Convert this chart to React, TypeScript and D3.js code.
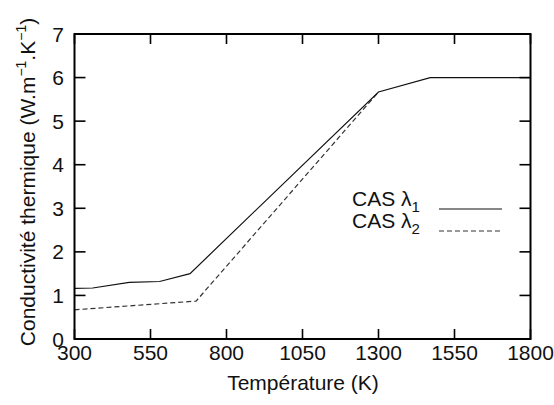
import React from "react";
import * as d3 from "d3";

const xTicks = [300, 550, 800, 1050, 1300, 1550, 1800];
const yTicks = [0, 1, 2, 3, 4, 5, 6, 7];

const tempCas1 = [300, 360, 480, 580, 680, 1300, 1470, 1800];
const lambdaCas1 = [1.16, 1.17, 1.3, 1.32, 1.5, 5.67, 6.0, 6.0];

const tempCas2 = [300, 700, 1300];
const lambdaCas2 = [0.67, 0.87, 5.67];

const W = 554;
const H = 405;
const left = 74.5;
const right = 530.5;
const top = 34;
const bottom = 339;
const font = "Liberation Sans, Arial, sans-serif";
const fs = 21;

export default function App() {
  const x = d3.scaleLinear().domain([300, 1800]).range([left, right]);
  const y = d3.scaleLinear().domain([0, 7]).range([bottom, top]);

  const line = d3
    .line<[number, number]>()
    .x((d) => x(d[0]))
    .y((d) => y(d[1]));

  const d1 = line(tempCas1.map((t, i) => [t, lambdaCas1[i]] as [number, number])) || "";
  const d2 = line(tempCas2.map((t, i) => [t, lambdaCas2[i]] as [number, number])) || "";

  const tickLenX = 10;
  const tickLenY = 11;

  return (
    <svg
      width={W}
      height={H}
      style={{ position: "absolute", left: 0, top: 0, background: "#fff" }}
      fontFamily={font}
    >
      <rect x={0} y={0} width={W} height={H} fill="#fff" />
      {/* data */}
      <path d={d2} fill="none" stroke="#333" strokeWidth={1.2} strokeDasharray="5,3" />
      <path d={d1} fill="none" stroke="#111" strokeWidth={1.2} />

      {/* ticks */}
      {xTicks.map((t) => (
        <g key={"x" + t}>
          <line x1={x(t)} x2={x(t)} y1={bottom} y2={bottom - tickLenX} stroke="#000" strokeWidth={1.6} />
          <line x1={x(t)} x2={x(t)} y1={top} y2={top + tickLenX} stroke="#000" strokeWidth={1.6} />
          <text x={x(t)} y={360} textAnchor="middle" fontSize={fs} fill="#111">
            {t}
          </text>
        </g>
      ))}
      {yTicks.map((v) => (
        <g key={"y" + v}>
          <line x1={left} x2={left + tickLenY} y1={y(v)} y2={y(v)} stroke="#000" strokeWidth={1.6} />
          <line x1={right} x2={right - tickLenY} y1={y(v)} y2={y(v)} stroke="#000" strokeWidth={1.6} />
          <text x={64} y={y(v) + 7.5} textAnchor="end" fontSize={fs} fill="#111">
            {v}
          </text>
        </g>
      ))}

      {/* frame */}
      <rect x={left} y={top} width={right - left} height={bottom - top} fill="none" stroke="#000" strokeWidth={2} />

      {/* axis titles */}
      <text x={303} y={390} textAnchor="middle" fontSize={fs} fill="#111">
        Température (K)
      </text>
      <text
        transform={`translate(35,${182}) rotate(-90)`}
        textAnchor="middle"
        fontSize={fs}
        fill="#111"
      >
        Conductivité thermique (W.m
        <tspan dy={-9} fontSize={14}>−1</tspan>
        <tspan dy={9}>.K</tspan>
        <tspan dy={-9} fontSize={14}>−1</tspan>
        <tspan dy={9}>)</tspan>
      </text>

      {/* legend */}
      <text x={352} y={206} fontSize={fs} fill="#111">
        CAS λ<tspan dy={6} fontSize={15}>1</tspan>
      </text>
      <line x1={439} x2={502} y1={209} y2={209} stroke="#111" strokeWidth={1.2} />
      <text x={352} y={228} fontSize={fs} fill="#111">
        CAS λ<tspan dy={6} fontSize={15}>2</tspan>
      </text>
      <line x1={439} x2={502} y1={231} y2={231} stroke="#333" strokeWidth={1.2} strokeDasharray="5,3" />
    </svg>
  );
}
